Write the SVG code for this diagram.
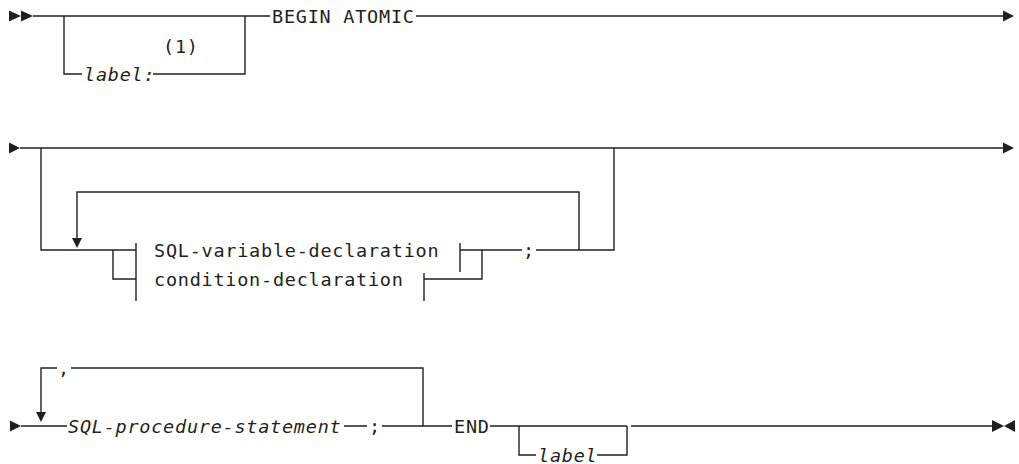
<svg xmlns="http://www.w3.org/2000/svg" width="1019" height="464" viewBox="0 0 1019 464">
  <style>
    .ln { fill: none; stroke: #231f20; stroke-width: 1.4; }
    .ah { fill: #231f20; stroke: none; }
    text { font-family: "DejaVu Sans Mono", "Liberation Mono", monospace; font-size: 18.5px; letter-spacing: 0.75px; fill: #231f20; }
    .var { font-style: italic; }
  </style>
  <rect width="1019" height="464" fill="#ffffff"/>

  <!-- rails, branches and loops -->
  <g id="connectors">
    <!-- row 1 -->
    <path class="ln" d="M33,16 H270"/>
    <path class="ln" d="M64,16 V74 H82 M153,74 H245 V16"/>
    <path class="ln" d="M416,16 H1003"/>
    <polygon class="ah" points="9,10.5 21,16 9,21.5"/>
    <polygon class="ah" points="21,10.5 33,16 21,21.5"/>
    <polygon class="ah" points="1003,10.5 1014,16 1003,21.5"/>

    <!-- row 2 -->
    <polygon class="ah" points="9,142.5 20,148 9,153.5"/>
    <path class="ln" d="M20,148 H1003"/>
    <polygon class="ah" points="1003,142.5 1014,148 1003,153.5"/>
    <path class="ln" d="M41,148 V250 H136"/>
    <path class="ln" d="M136,243 V301"/>
    <path class="ln" d="M113,250 V279 H136"/>
    <path class="ln" d="M579,250 V192 H77 V238"/>
    <polygon class="ah" points="72,238 82,238 77,248"/>
    <path class="ln" d="M460,243 V272 M460,250 H522 M536,250 H614 V148"/>
    <path class="ln" d="M424,273 V301 M424,279 H482 V250"/>

    <!-- row 3 -->
    <polygon class="ah" points="10,420.5 21,426 10,431.5"/>
    <path class="ln" d="M21,426 H67"/>
    <path class="ln" d="M344,426 H367 M382,426 H452"/>
    <path class="ln" d="M423,426 V368 H71 M57,368 H41 V412"/>
    <polygon class="ah" points="36,412 46,412 41,422"/>
    <path class="ln" d="M490,426 H627"/>
    <path class="ln" d="M519,426 V455 H536 M597,455 H627 V426"/>
    <path class="ln" d="M631,426 H992"/>
    <polygon class="ah" points="992,420 1004,426 992,432"/>
    <polygon class="ah" points="1015,420 1004,426 1015,432"/>
  </g>

  <!-- keywords, variables and fragments -->
  <g id="label-opt">
    <text class="var" x="84" y="80.5">label:</text>
    <text x="163" y="53">(1)</text>
  </g>
  <g id="begin-atomic">
    <text x="272" y="22.5">BEGIN ATOMIC</text>
  </g>
  <g id="sql-variable-declaration">
    <text x="154" y="256.7">SQL-variable-declaration</text>
  </g>
  <g id="condition-declaration">
    <text x="154" y="285.7">condition-declaration</text>
  </g>
  <g id="semicolon-1">
    <text x="523" y="256.7">;</text>
  </g>
  <g id="comma">
    <text x="58" y="374.5">,</text>
  </g>
  <g id="sql-procedure-statement">
    <text class="var" x="68" y="432.5">SQL-procedure-statement</text>
  </g>
  <g id="semicolon-2">
    <text x="369" y="432.5">;</text>
  </g>
  <g id="end">
    <text x="454" y="432.5">END</text>
  </g>
  <g id="label-end">
    <text class="var" x="538" y="461.5">label</text>
  </g>
</svg>
